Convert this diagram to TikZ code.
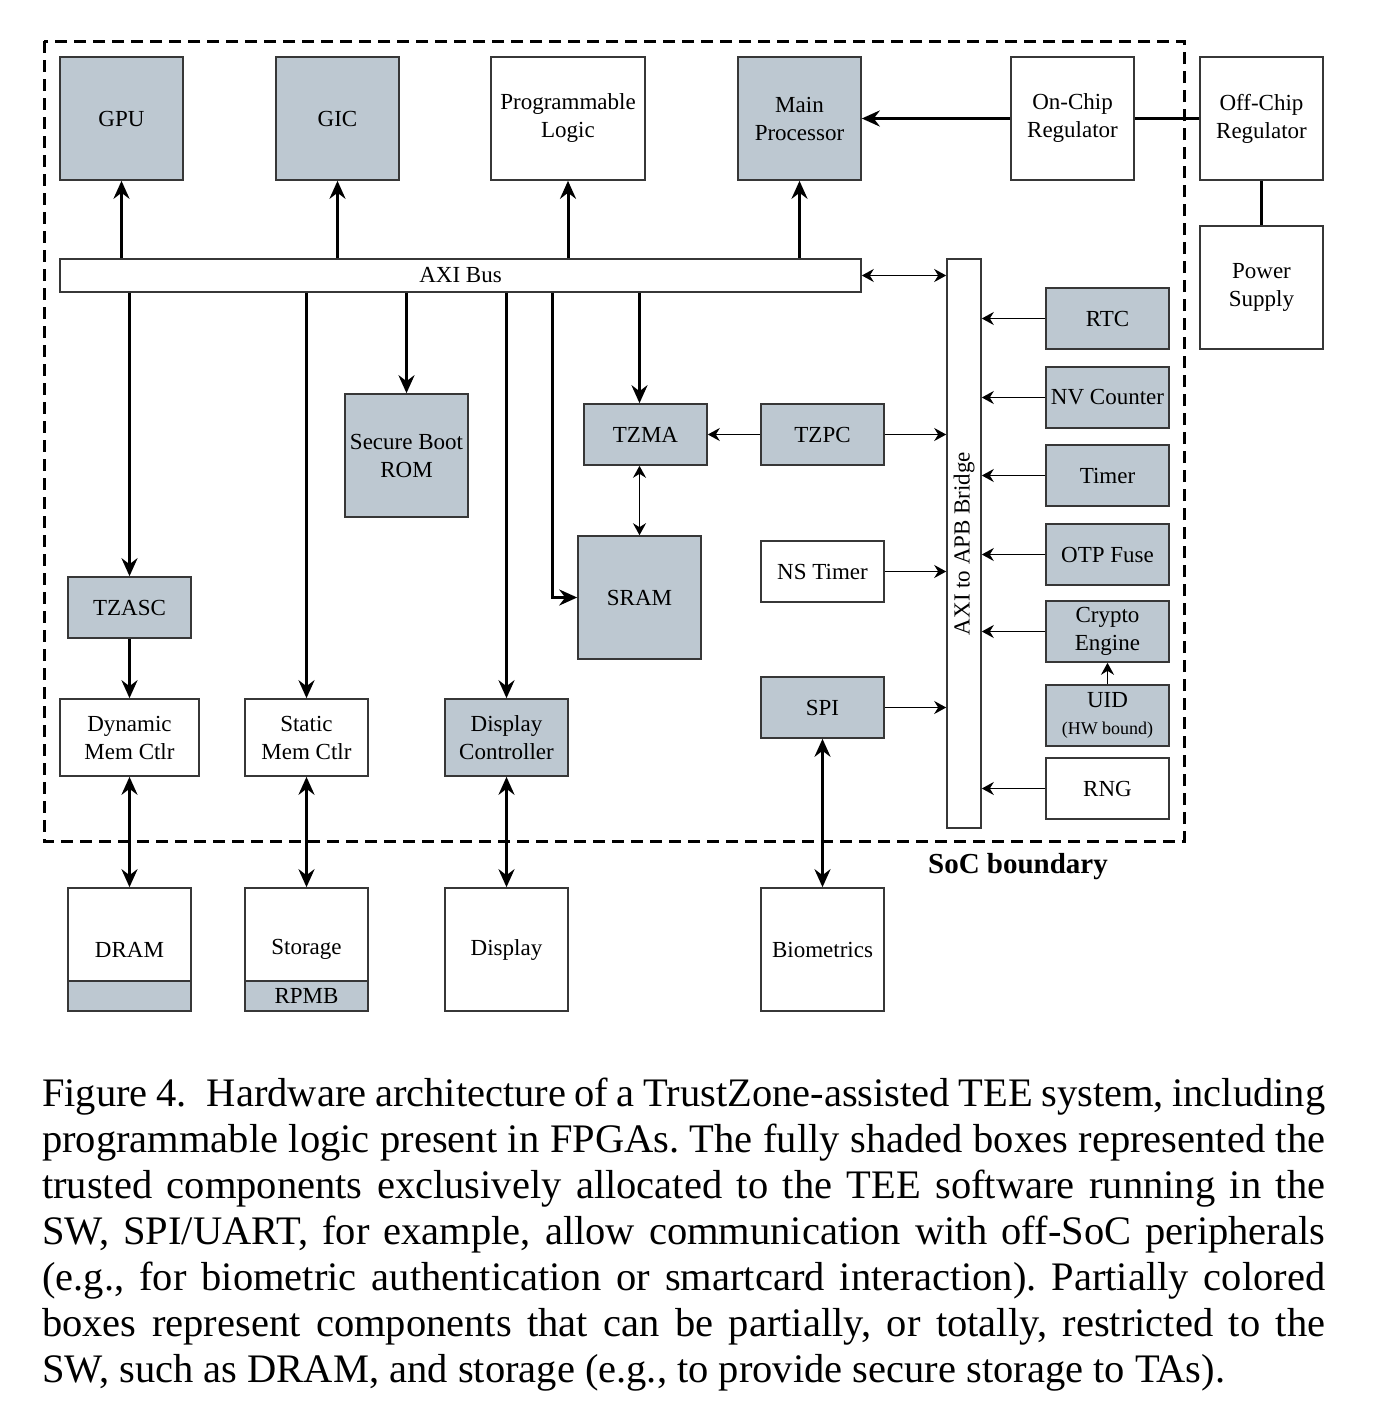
\documentclass[tikz,border=0pt]{standalone}
\usepackage{fontspec}
\setmainfont{Liberation Serif}
\usetikzlibrary{arrows.meta}
\definecolor{tzgray}{RGB}{189,200,209}
\definecolor{edge}{RGB}{55,55,55}
\begin{document}
\frenchspacing
\begin{tikzpicture}[x=1pt,y=-1pt,
    box/.style={draw=edge,line width=1.6pt,inner sep=0pt,align=center,font=\fontsize{23}{28}\selectfont},
    tz/.style={box,fill=tzgray},
    sq/.style={minimum width=123pt,minimum height=123pt},
    flat/.style={minimum width=123pt,minimum height=61pt},
    ctl/.style={minimum width=123pt,minimum height=77pt},
    bus/.style={line width=3pt,-{Stealth[length=18pt,width=16pt,inset=6pt]}},
    dbus/.style={line width=3pt,{Stealth[length=18pt,width=16pt,inset=6pt]}-{Stealth[length=18pt,width=16pt,inset=6pt]}},
    link/.style={line width=1.8pt,-{Stealth[length=12pt,width=13pt,inset=4pt]}},
    dlink/.style={line width=1.8pt,{Stealth[length=12pt,width=13pt,inset=4pt]}-{Stealth[length=12pt,width=13pt,inset=4pt]}}]
        \useasboundingbox (0,0) rectangle (1388,1416);
        \draw[line width=3pt,dash pattern=on 12pt off 7pt] (44,41) rectangle (1184,841);
        \node[font=\bfseries\fontsize{29}{33}\selectfont] (soc) at (1018,867) {SoC boundary};
        \node[tz,sq] (gpu) at (121.5,118.5) {GPU};
        \node[tz,sq] (gic) at (337.5,118.5) {GIC};
        \node[box,sq,minimum width=154pt] (plogic) at (568,118.5) {Programmable\\Logic};
        \node[tz,sq] (cpu) at (799.5,118.5) {Main\\Processor};
        \node[box,sq] (onchip) at (1072.5,118.5) {On-Chip\\Regulator};
        \node[box,sq] (offchip) at (1261.5,118.5) {Off-Chip\\Regulator};
        \node[box,sq] (power) at (1261.5,287.5) {Power\\Supply};
        \node[box,minimum width=801pt,minimum height=33pt] (axi) at (460.5,275.5) {AXI Bus};
        \node[box,minimum width=34pt,minimum height=569pt] (bridge) at (964,543.5) {\rotatebox{90}{AXI to APB Bridge}};
        \node[tz,flat] (rtc) at (1107.5,318.5) {RTC};
        \node[tz,flat] (nvc) at (1107.5,397.5) {NV Counter};
        \node[tz,flat] (timer) at (1107.5,475.5) {Timer};
        \node[tz,flat] (otp) at (1107.5,554.5) {OTP Fuse};
        \node[tz,flat] (crypto) at (1107.5,631.5) {Crypto\\Engine};
        \node[tz,flat] (uid) at (1107.5,715.5) {UID\\[-1pt]{\fontsize{18}{20}\selectfont(HW bound)}};
        \node[box,flat] (rng) at (1107.5,788.5) {RNG};
        \node[tz,flat] (tzma) at (645.5,434.5) {TZMA};
        \node[tz,flat] (tzpc) at (822.5,434.5) {TZPC};
        \node[tz,sq] (sbrom) at (406.5,455.5) {Secure Boot\\ROM};
        \node[tz,sq] (sram) at (639.5,597.5) {SRAM};
        \node[box,flat] (nstimer) at (822.5,571.5) {NS Timer};
        \node[tz,flat] (spi) at (822.5,707.5) {SPI};
        \node[tz,flat] (tzasc) at (129.5,607.5) {TZASC};
        \node[box,ctl,minimum width=139pt] (dmc) at (129.5,737.5) {Dynamic\\Mem Ctlr};
        \node[box,ctl] (smc) at (306.5,737.5) {Static\\Mem Ctlr};
        \node[tz,ctl] (dispctl) at (506.5,737.5) {Display\\Controller};
        \node[box,sq] (dram) at (129.5,949.5) {DRAM};
        \node[tz,minimum width=123pt,minimum height=30pt,anchor=south] (dramsec) at (dram.south) {};
        \node[box,sq] (storage) at (306.5,949.5) {Storage};
        \node[tz,minimum width=123pt,minimum height=30pt,anchor=south] (rpmb) at (storage.south) {RPMB};
        \node[box,sq] (display) at (506.5,949.5) {Display};
        \node[box,sq] (bio) at (822.5,949.5) {Biometrics};
        \foreach \n in {gpu,gic,plogic,cpu}
            \draw[bus] (\n.south |- axi.north) -- (\n.south);
        \draw[bus] (onchip.west) -- (cpu.east);
        \draw[line width=3pt] (onchip.east) -- (offchip.west);
        \draw[line width=3pt] (offchip.south) -- (power.north);
        \draw[dlink] (axi.east) -- (axi.east -| bridge.west);
        \foreach \n in {tzasc,smc,sbrom,dispctl}
            \draw[bus] (\n.north |- axi.south) -- (\n.north);
        \draw[bus] (tzasc.south) -- (dmc.north);
        \coordinate (tap) at (552,0);
        \draw[bus] (tap |- axi.south) |- (sram.west);
        \draw[bus] (sram.north |- axi.south) -- (sram.north |- tzma.north);
        \draw[dlink] (sram.north |- tzma.south) -- (sram.north);
        \draw[link] (tzpc.west) -- (tzma.east);
        \foreach \n in {tzpc,nstimer,spi}
            \draw[link] (\n.east) -- (\n.east -| bridge.west);
        \foreach \n in {rtc,nvc,timer,otp,crypto,rng}
            \draw[link] (\n.west) -- (\n.west -| bridge.east);
        \draw[link] (uid.north) -- (crypto.south);
        \draw[dbus] (dmc.south) -- (dram.north);
        \draw[dbus] (smc.south) -- (storage.north);
        \draw[dbus] (dispctl.south) -- (display.north);
        \draw[dbus] (spi.south) -- (bio.north);
        \node[anchor=north west,inner sep=0pt,text width=1283pt,align=justify,font=\fontsize{40.5}{46}\selectfont] (caption) at (42,1078) {Figure 4.\enspace Hardware architecture of a TrustZone-assisted TEE system, including\linebreak programmable logic present in FPGAs. The fully shaded boxes represented the\linebreak trusted components exclusively allocated to the TEE software running in the\linebreak SW, SPI/UART, for example, allow communication with off-SoC peripherals\linebreak (e.g., for biometric authentication or smartcard interaction). Partially colored\linebreak boxes represent components that can be partially, or totally, restricted to the\linebreak SW, such as DRAM, and storage (e.g., to provide secure storage to TAs).};
\end{tikzpicture}
\end{document}
